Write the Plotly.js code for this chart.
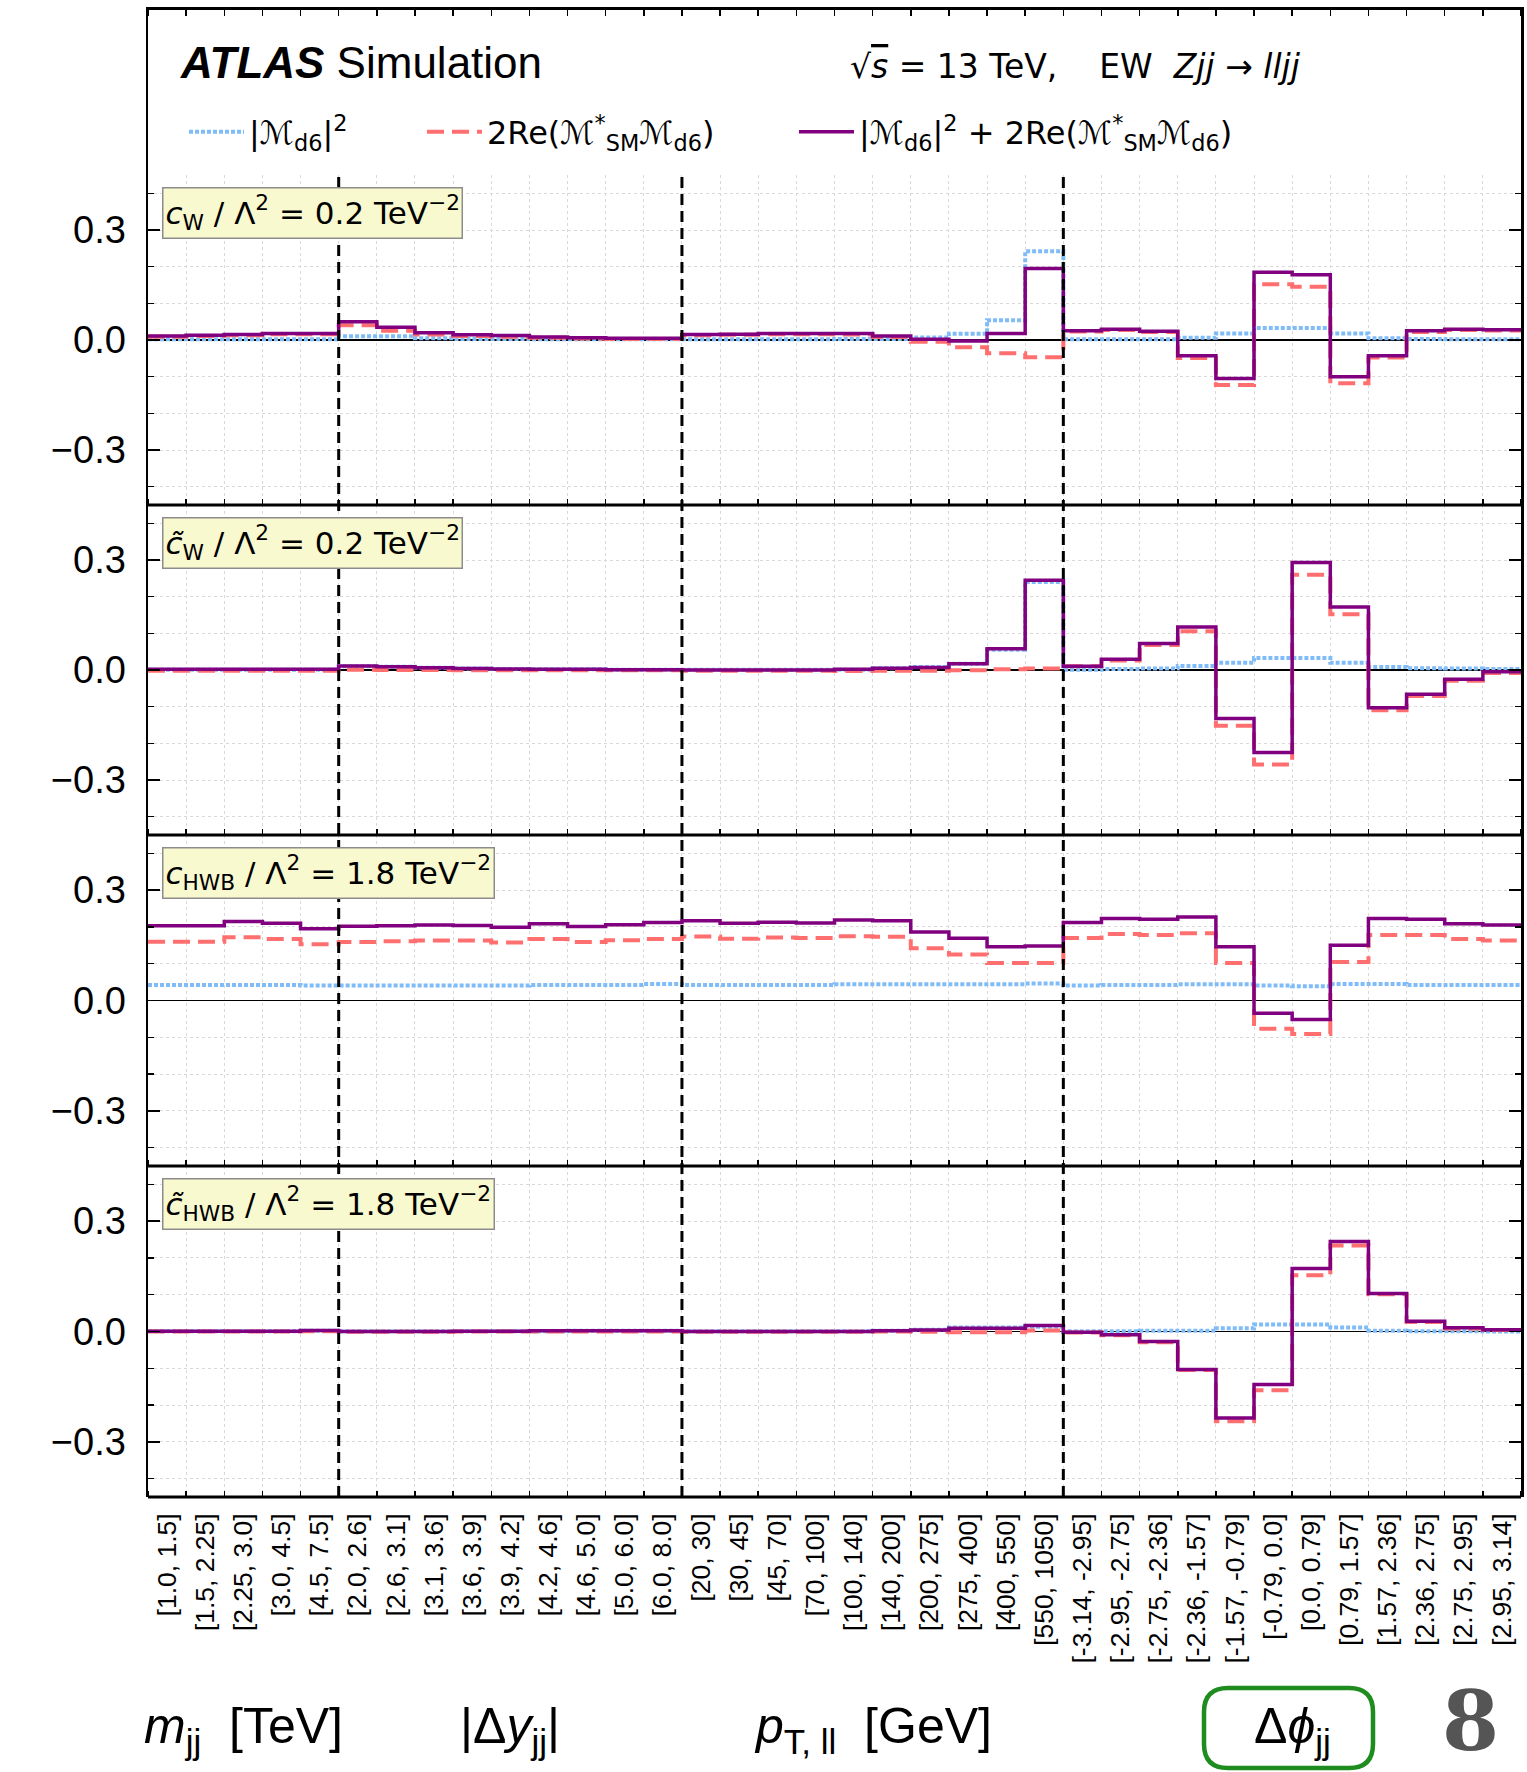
<!DOCTYPE html>
<html><head><meta charset="utf-8">
<script src="https://cdn.plot.ly/plotly-3.0.1.min.js"></script>
<style>body{margin:0;background:#fff}</style>
</head><body><div id="chart" style="width:1527px;height:1772px"></div>
<script>
// ---------------- data ----------------
const mjjBins  = ["[1.0, 1.5]","[1.5, 2.25]","[2.25, 3.0]","[3.0, 4.5]","[4.5, 7.5]"];
const dyjjBins = ["[2.0, 2.6]","[2.6, 3.1]","[3.1, 3.6]","[3.6, 3.9]","[3.9, 4.2]","[4.2, 4.6]","[4.6, 5.0]","[5.0, 6.0]","[6.0, 8.0]"];
const ptllBins = ["[20, 30]","[30, 45]","[45, 70]","[70, 100]","[100, 140]","[140, 200]","[200, 275]","[275, 400]","[400, 550]","[550, 1050]"];
const dphiBins = ["[-3.14, -2.95]","[-2.95, -2.75]","[-2.75, -2.36]","[-2.36, -1.57]","[-1.57, -0.79]","[-0.79, 0.0]","[0.0, 0.79]","[0.79, 1.57]","[1.57, 2.36]","[2.36, 2.75]","[2.75, 2.95]","[2.95, 3.14]"];

const groupTitles = ["<i>m</i><sub>jj</sub>  [TeV]","|Δ<i>y</i><sub>jj</sub>|","<i>p</i><sub>T, ll</sub>  [GeV]","Δ<i>ϕ</i><sub>jj</sub>"];
const seriesNames = ["|ℳ<sub>d6</sub>|<sup>2</sup>",
                     "2Re(ℳ<sup>*</sup><sub>SM</sub>ℳ<sub>d6</sub>)",
                     "|ℳ<sub>d6</sub>|<sup>2</sup> + 2Re(ℳ<sup>*</sup><sub>SM</sub>ℳ<sub>d6</sub>)"];
const panelLabels = ["<i>c</i><sub>W</sub> / Λ<sup>2</sup> = 0.2 TeV<sup>−2</sup>",
                     "<i>c\u0303</i><sub>W</sub> / Λ<sup>2</sup> = 0.2 TeV<sup>−2</sup>",
                     "<i>c</i><sub>HWB</sub> / Λ<sup>2</sup> = 1.8 TeV<sup>−2</sup>",
                     "<i>c\u0303</i><sub>HWB</sub> / Λ<sup>2</sup> = 1.8 TeV<sup>−2</sup>"];
const yTickVals = [-0.3, 0.0, 0.3];
const yTickText = ["−0.3","0.0","0.3"];

// c_W
const cW_sq  = [0.002,0.002,0.002,0.002,0.002, 0.010,0.010,0.005,0.003,0.003,0.002,0.002,0.002,0.002, 0.002,0.002,0.002,0.002,0.003,0.003,0.007,0.017,0.054,0.242, 0.002,0.002,0.002,0.006,0.018,0.033,0.033,0.018,0.005,0.003,0.002,0.002];
const cW_int = [0.009,0.011,0.013,0.016,0.016, 0.040,0.025,0.015,0.011,0.009,0.006,0.004,0.003,0.003, 0.013,0.014,0.016,0.016,0.015,0.008,-0.005,-0.020,-0.036,-0.047, 0.023,0.027,0.022,-0.049,-0.123,0.152,0.145,-0.118,-0.048,0.022,0.027,0.026];
const cW_tot = [0.011,0.013,0.015,0.018,0.018, 0.050,0.035,0.020,0.014,0.012,0.008,0.006,0.005,0.005, 0.015,0.016,0.018,0.018,0.018,0.011,0.002,-0.003,0.018,0.195, 0.025,0.029,0.024,-0.043,-0.105,0.185,0.178,-0.100,-0.043,0.025,0.029,0.028];
// c~_W
const cWt_sq  = [0.001,0.001,0.001,0.001,0.001, 0.010,0.009,0.006,0.004,0.003,0.002,0.002,0.001,0.001, 0.001,0.001,0.001,0.001,0.001,0.005,0.008,0.017,0.055,0.240, 0.001,0.003,0.004,0.011,0.020,0.033,0.033,0.020,0.008,0.005,0.004,0.003];
const cWt_int = [-0.002,-0.002,-0.002,-0.002,-0.002, 0.001,0.000,0.000,-0.001,-0.001,-0.001,-0.001,-0.001,-0.001, -0.002,-0.002,-0.002,-0.002,-0.003,-0.002,-0.002,-0.001,0.002,0.004, 0.010,0.026,0.068,0.106,-0.152,-0.258,0.260,0.152,-0.110,-0.071,-0.029,-0.008];
const cWt_tot = [0.002,0.002,0.002,0.002,0.002, 0.011,0.009,0.006,0.004,0.003,0.002,0.002,0.001,0.001, 0.000,0.000,0.000,0.000,0.002,0.005,0.007,0.017,0.058,0.245, 0.010,0.029,0.072,0.117,-0.132,-0.225,0.293,0.172,-0.103,-0.066,-0.025,-0.005];
// c_HWB
const cHWB_sq  = [0.042,0.042,0.042,0.042,0.041, 0.041,0.041,0.041,0.041,0.041,0.042,0.042,0.042,0.045, 0.042,0.042,0.042,0.042,0.044,0.044,0.044,0.044,0.044,0.046, 0.041,0.042,0.042,0.044,0.044,0.041,0.039,0.045,0.045,0.042,0.042,0.042];
const cHWB_int = [0.160,0.160,0.172,0.167,0.153, 0.159,0.161,0.163,0.163,0.158,0.167,0.159,0.164,0.167, 0.174,0.168,0.171,0.170,0.175,0.173,0.142,0.125,0.102,0.102, 0.170,0.181,0.178,0.183,0.102,-0.077,-0.091,0.105,0.178,0.178,0.167,0.163];
const cHWB_tot = [0.203,0.203,0.215,0.210,0.195, 0.202,0.203,0.205,0.204,0.199,0.209,0.201,0.206,0.212, 0.217,0.210,0.213,0.211,0.219,0.217,0.186,0.169,0.146,0.148, 0.212,0.223,0.221,0.227,0.146,-0.035,-0.052,0.150,0.223,0.221,0.209,0.205];
// c~_HWB
const cHWBt_sq  = [0.001,0.001,0.001,0.001,0.002, 0.001,0.001,0.001,0.001,0.001,0.001,0.002,0.002,0.002, 0.001,0.001,0.001,0.001,0.001,0.002,0.005,0.011,0.011,0.013, 0.001,0.001,0.002,0.002,0.009,0.019,0.019,0.011,0.002,0.001,0.001,0.000];
const cHWBt_int = [0.000,0.000,0.000,0.000,0.001, -0.001,-0.001,-0.001,0.000,0.000,0.000,0.000,0.000,0.000, -0.001,-0.001,-0.001,-0.001,-0.001,0.000,-0.001,-0.002,-0.002,0.003, -0.003,-0.010,-0.029,-0.105,-0.244,-0.160,0.153,0.234,0.101,0.026,0.008,0.004];
const cHWBt_tot = [0.001,0.001,0.001,0.001,0.003, 0.000,0.000,0.000,0.001,0.001,0.002,0.002,0.002,0.002, 0.000,0.000,0.000,0.000,0.000,0.002,0.004,0.009,0.009,0.016, -0.002,-0.009,-0.027,-0.103,-0.235,-0.144,0.171,0.245,0.103,0.028,0.010,0.005];

// ---------------- build ----------------
const groups = [mjjBins, dyjjBins, ptllBins, dphiBins];
const labels = [].concat(...groups);
const N = labels.length;
const edges = Array.from({length: N + 1}, (_, i) => i);
const centers = labels.map((_, i) => i + 0.5);
const stepY = v => v.concat([v[v.length - 1]]);

const panels = [
  [cW_sq, cW_int, cW_tot],
  [cWt_sq, cWt_int, cWt_tot],
  [cHWB_sq, cHWB_int, cHWB_tot],
  [cHWBt_sq, cHWBt_int, cHWBt_tot]
];
const styles = [
  {color: '#80bcf7', width: 4, dash: '4px,2px'},
  {color: '#ff6f6f', width: 4, dash: '17px,8px'},
  {color: '#800080', width: 3.5, dash: 'solid'}
];
const legendIds = ['legend', 'legend2', 'legend3'];

// pixel geometry of the frame
const L = 148, R = 1521, T = 10, B = 1497;
const px = v => (v - L) / (R - L);
const py = v => (B - v) / (B - T);
const panelTops = [175, 505, 835, 1166];
const panelBots = [505, 835, 1166, 1497];

const traces = [];
panels.forEach((p, k) => {
  const ax = k === 0 ? '' : String(k + 1);
  p.forEach((vals, s) => {
    traces.push({
      x: edges, y: stepY(vals), type: 'scatter', mode: 'lines',
      line: Object.assign({shape: 'hv'}, styles[s]),
      name: seriesNames[s], legendgroup: 's' + s, showlegend: k === 0, legend: legendIds[s],
      xaxis: 'x' + ax, yaxis: 'y' + ax, hoverinfo: 'skip'
    });
  });
});
// header subplot holder
traces.push({x: [], y: [], xaxis: 'x5', yaxis: 'y5', showlegend: false, type: 'scatter', mode: 'lines'});

const gridStyle = {gridcolor: '#d9d9d9', gridwidth: 1, griddash: 'dot'};
const tickFont = {family: 'Liberation Sans, Arial, sans-serif', size: 26.5, color: '#000'};

function xAxis(k) {
  const last = k === 3;
  return {
    range: [0, N], matches: k === 0 ? undefined : 'x', anchor: 'y' + (k === 0 ? '' : k + 1),
    tickmode: 'array', tickvals: centers, ticktext: labels, ticks: '',
    showticklabels: last, tickangle: -90, tickfont: tickFont, ticklabelstandoff: 10,
    showgrid: false, zeroline: false,
    showline: false,
    mirror: k === 0 ? false : 'ticks',
    minor: Object.assign({tickmode: 'linear', tick0: 0, dtick: 1, ticks: 'inside', ticklen: 6, tickwidth: 1.5, tickcolor: '#000', showgrid: true}, gridStyle),
    fixedrange: true
  };
}
function yAxis(k) {
  const top = panelTops[k], bot = panelBots[k];
  return {
    domain: [py(bot), py(top)], range: [-0.45, 0.45], anchor: 'x' + (k === 0 ? '' : k + 1),
    tickmode: 'array', tickvals: yTickVals, ticktext: yTickText,
    ticks: 'inside', ticklen: 12, tickwidth: 1.5, tickcolor: '#000',
    tickfont: {family: 'Liberation Sans, Arial, sans-serif', size: 38, color: '#000'},
    ticklabelstandoff: 12,
    showgrid: true, gridcolor: '#d9d9d9', gridwidth: 1, griddash: 'dot',
    zeroline: true, zerolinecolor: '#000', zerolinewidth: 1.5,
    showline: true, linecolor: '#000', linewidth: 2.5, mirror: 'ticks',
    minor: Object.assign({tickmode: 'linear', tick0: 0, dtick: 0.1, ticks: 'inside', ticklen: 6, tickwidth: 1.5, tickcolor: '#000', showgrid: true}, gridStyle),
    fixedrange: true
  };
}

const legendBase = {
  orientation: 'h', xanchor: 'left', y: py(132), yanchor: 'middle',
  font: {family: 'DejaVu Sans, sans-serif', size: 32, color: '#000'},
  bgcolor: 'rgba(0,0,0,0)', itemwidth: 55
};

const layout = {
  width: 1527, height: 1772,
  margin: {l: L, r: 1527 - R, t: T, b: 1772 - B},
  paper_bgcolor: '#fff', plot_bgcolor: '#fff',
  font: {family: 'DejaVu Sans, sans-serif', color: '#000'},
  showlegend: true,
  legend:  Object.assign({}, legendBase, {x: px(184)}),
  legend2: Object.assign({}, legendBase, {x: px(422)}),
  legend3: Object.assign({}, legendBase, {x: px(794)}),
  xaxis5: {range: [0, N], matches: 'x', anchor: 'y5', side: 'top', showticklabels: false, ticks: '',
           tickmode: 'array', tickvals: centers, showgrid: false, zeroline: false,
           showline: true, linecolor: '#000', linewidth: 3,
           minor: {tickmode: 'linear', tick0: 0, dtick: 1, ticks: 'inside', ticklen: 6, tickwidth: 1.5, tickcolor: '#000', showgrid: false},
           fixedrange: true},
  yaxis5: {domain: [py(175), 1], range: [0, 1], anchor: 'x5', showticklabels: false, ticks: '',
           showgrid: false, zeroline: false, showline: true, linecolor: '#000', linewidth: 2.5, mirror: true,
           fixedrange: true},
  shapes: [],
  annotations: []
};
for (let k = 0; k < 4; k++) {
  const s = k === 0 ? '' : String(k + 1);
  layout['xaxis' + s] = xAxis(k);
  layout['yaxis' + s] = yAxis(k);
}

// horizontal frame lines between / below panels
panelBots.forEach(yb => {
  layout.shapes.push({type: 'line', xref: 'paper', yref: 'paper', x0: 0, x1: 1, y0: py(yb), y1: py(yb),
                      line: {color: '#000', width: 3}, layer: 'above'});
});

// group separators (dashed) at cumulative group boundaries
let cum = 0;
groups.slice(0, -1).forEach(g => {
  cum += g.length;
  layout.shapes.push({type: 'line', xref: 'x', yref: 'paper', x0: cum, x1: cum, y0: 0, y1: py(175),
                      line: {color: '#000', width: 3, dash: '11px,6px'}, layer: 'above'});
});

// group titles under the axis, centred on each group
cum = 0;
groups.forEach((g, i) => {
  const mid = cum + g.length / 2;
  cum += g.length;
  layout.annotations.push({xref: 'x4', yref: 'paper', x: mid, y: py(1729), text: groupTitles[i],
    showarrow: false, xanchor: 'center', yanchor: 'middle',
    font: {family: 'Liberation Sans, Arial, sans-serif', size: 50, color: '#000'}});
});

// panel labels
panelLabels.forEach((t, k) => {
  layout.annotations.push({xref: 'paper', yref: 'paper', x: px(162), y: py(panelTops[k] + 12),
    xanchor: 'left', yanchor: 'top', text: t, showarrow: false,
    bgcolor: '#f9f9cf', bordercolor: '#8c8c8c', borderwidth: 1.5, borderpad: 2,
    font: {family: 'DejaVu Sans, sans-serif', size: 31, color: '#000'}});
});

// header texts
layout.annotations.push({xref: 'paper', yref: 'paper', x: px(178), y: py(62), xanchor: 'left', yanchor: 'middle',
  text: '<b><i>ATLAS</i></b> Simulation', showarrow: false,
  font: {family: 'Liberation Sans, Arial, sans-serif', size: 44, color: '#000'}});
layout.annotations.push({xref: 'paper', yref: 'paper', x: px(848), y: py(66), xanchor: 'left', yanchor: 'middle',
  text: '√<span style="text-decoration:overline"><i>s</i></span> = 13 TeV,\u00a0\u00a0\u00a0 EW\u00a0 <i>Zjj</i> → <i>lljj</i>', showarrow: false,
  font: {family: 'DejaVu Sans, sans-serif', size: 33, color: '#000'}});

// page number and highlight box
layout.annotations.push({xref: 'paper', yref: 'paper', x: px(1470), y: py(1721), xanchor: 'center', yanchor: 'middle',
  text: '<b>8</b>', showarrow: false,
  font: {family: 'DejaVu Serif, Liberation Serif, serif', size: 82, color: '#555'}});
(function () {
  const l = 1204, r = 1373, t = 1688, b = 1768, rad = 24;
  const P = (x, y) => px(x) + ',' + py(y);
  const path = 'M' + P(l, b - rad) + ' L' + P(l, t + rad) + ' Q' + P(l, t) + ' ' + P(l + rad, t) +
    ' L' + P(r - rad, t) + ' Q' + P(r, t) + ' ' + P(r, t + rad) + ' L' + P(r, b - rad) +
    ' Q' + P(r, b) + ' ' + P(r - rad, b) + ' L' + P(l + rad, b) + ' Q' + P(l, b) + ' ' + P(l, b - rad) + ' Z';
  layout.shapes.push({type: 'path', xref: 'paper', yref: 'paper', path: path,
    line: {color: '#1e8c1e', width: 4.5}});
})();

Plotly.newPlot('chart', traces, layout, {staticPlot: true, displayModeBar: false});
</script>
</body></html>
